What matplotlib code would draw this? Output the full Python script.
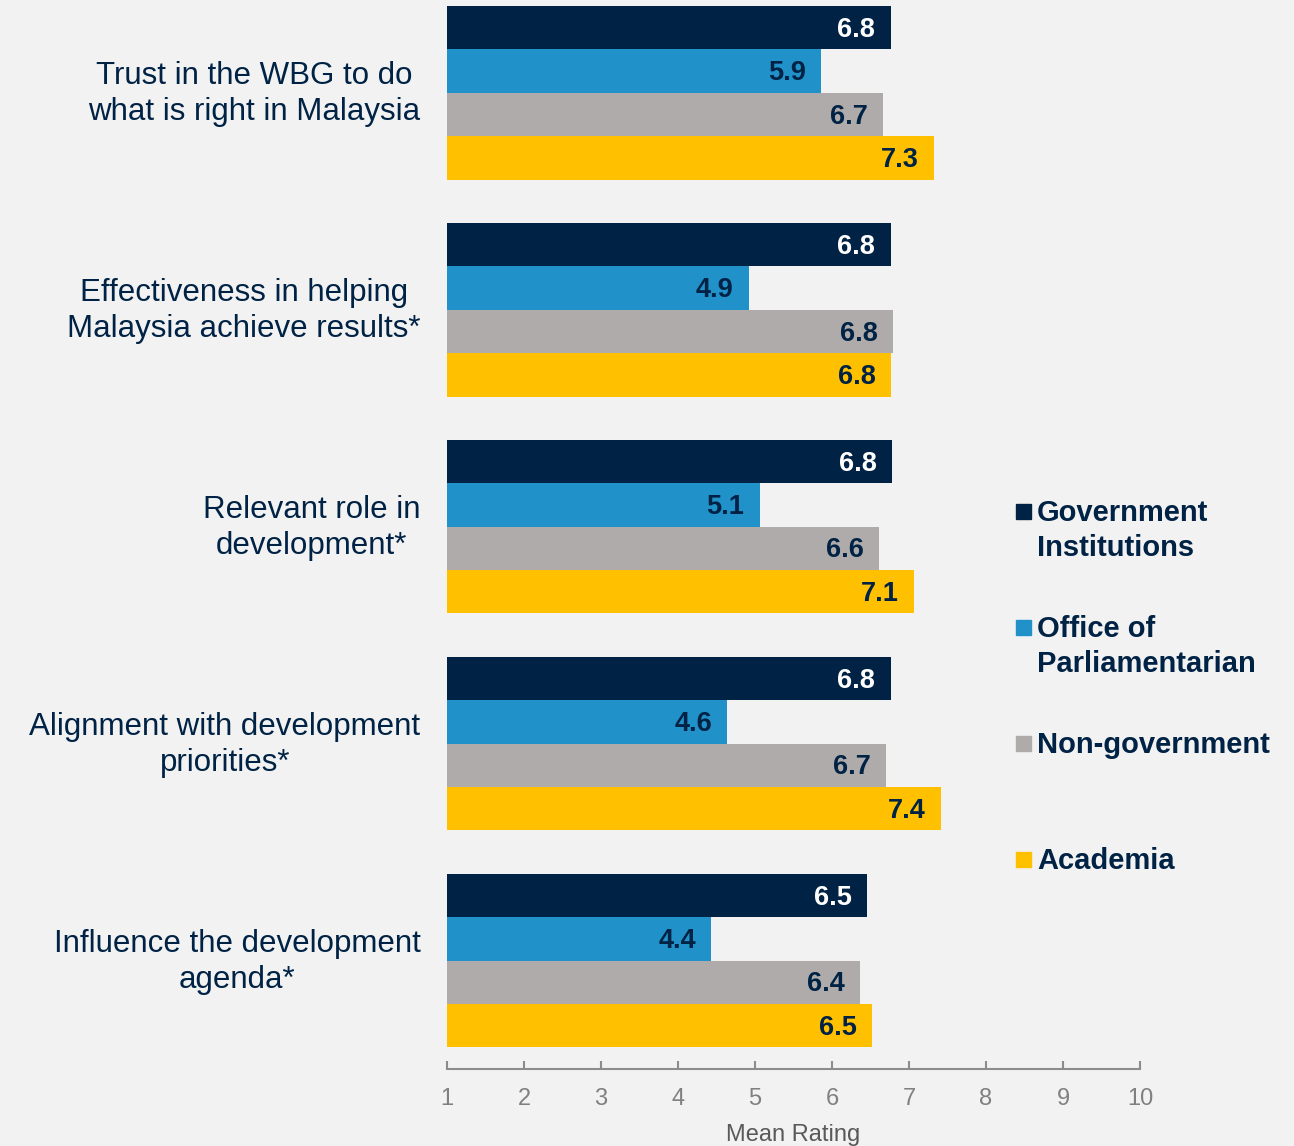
import matplotlib.pyplot as plt
from matplotlib.patches import Rectangle

categories = [
    "Trust in the WBG to do\nwhat is right in Malaysia",
    "Effectiveness in helping\nMalaysia achieve results*",
    "Relevant role in\ndevelopment*",
    "Alignment with development\npriorities*",
    "Influence the development\nagenda*",
]
groups = ["Government\nInstitutions", "Office of\nParliamentarian", "Non-government", "Academia"]

gov = [6.76, 6.76, 6.78, 6.76, 6.46]
office = [5.86, 4.92, 5.06, 4.64, 4.43]
nongov = [6.66, 6.79, 6.61, 6.70, 6.36]
academia = [7.32, 6.77, 7.06, 7.42, 6.52]
series = [gov, office, nongov, academia]

colors = ["#002244", "#2191c9", "#afabaa", "#ffc000"]
label_colors = ["white", "#002244", "#002244", "#002244"]
navy = "#002244"

plt.rcParams['font.family'] = ['Liberation Sans', 'DejaVu Sans']

fig = plt.figure(figsize=(12.94, 11.46), dpi=100)
fig.patch.set_facecolor("#f2f2f2")
ax = fig.add_axes([447 / 1294, 77 / 1146, 693 / 1294, 1069 / 1146])
ax.set_facecolor("#f2f2f2")

spacing = 5
for k, vals in enumerate(series):
    for g, v in enumerate(vals):
        y = g * spacing + k
        ax.barh(y, v - 1, left=1, height=1.0, color=colors[k])
        ax.annotate(f"{v:.1f}", (v, y), xytext=(-11, -1.5), textcoords="offset points",
                    ha="right", va="center", fontsize=19.5, fontweight="bold",
                    color=label_colors[k])

for g, cat in enumerate(categories):
    ax.annotate(cat, (1, g * spacing + 1.5), xytext=(-19, -1), textcoords="offset points",
                ha="right", va="center", multialignment="center", fontsize=22.5,
                color=navy, linespacing=1.25, annotation_clip=False)

ax.set_xlim(1, 10)
ax.set_ylim(24.0, -0.64)
ax.set_xticks(range(1, 11))
ax.set_yticks([])
for s in ["top", "right", "left"]:
    ax.spines[s].set_visible(False)
ax.spines["bottom"].set_color("#8c8c8c")
ax.spines["bottom"].set_linewidth(1.5)
ax.tick_params(axis="x", direction="in", length=6, width=1.5, color="#8c8c8c",
               labelsize=17, labelcolor="#808080", pad=14)
ax.set_xlabel("Mean Rating", fontsize=17, color="#595959", labelpad=10)

# legend
legend_base = [520, 636, 752, 868]
for k, name in enumerate(groups):
    ypix = 1146 - legend_base[k]
    fig.patches.append(Rectangle((1016 / 1294, (ypix + 1) / 1146), 15 / 1294, 15 / 1146,
                                 transform=fig.transFigure, color=colors[k], figure=fig))
    fig.text(1037 / 1294, (ypix + 21) / 1146, name, ha="left", va="top", fontsize=21,
             fontweight="bold", color=navy, linespacing=1.3)

fig.savefig("out.png", dpi=100, facecolor=fig.get_facecolor())
